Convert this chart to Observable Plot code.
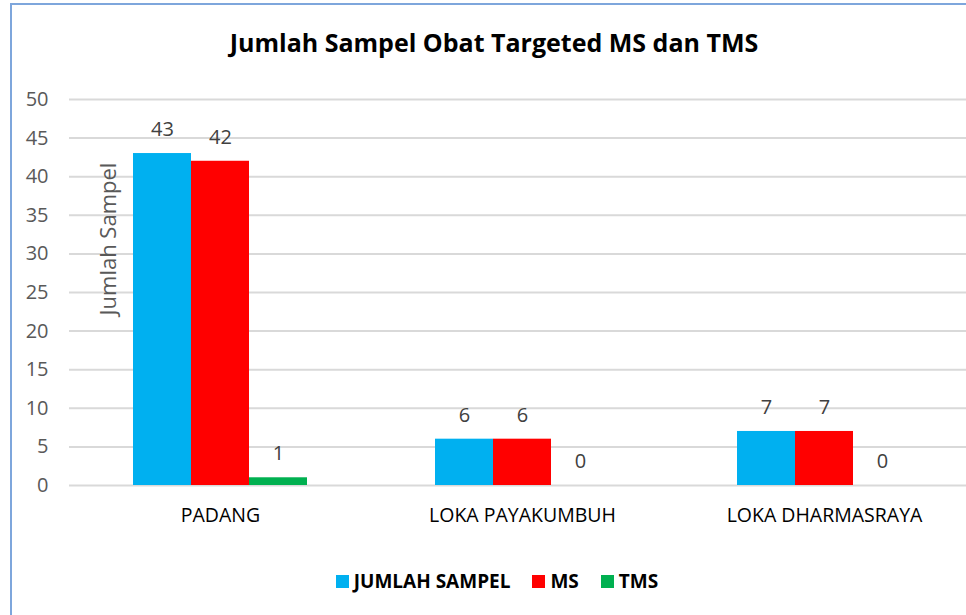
<!DOCTYPE html>
<html>
<head>
<meta charset="utf-8">
<script src="https://cdn.jsdelivr.net/npm/d3@7"></script>
<script src="https://cdn.jsdelivr.net/npm/@observablehq/plot@0.6"></script>
<style>
  html, body { margin: 0; padding: 0; background: #fff; }
  #wrap { position: relative; width: 966px; height: 615px; overflow: hidden; font-family: "Open Sans", sans-serif; }
  #frame { position: absolute; left: 10px; top: 3px; width: 1000px; height: 700px; border-left: 2px solid #7ea6dc; border-top: 2px solid #7ea6dc; box-sizing: border-box; }
  #title { position: absolute; left: 0; width: 988px; top: 25px; text-align: center; font-weight: 700; font-size: 25px; color: #000; }
  #ylab { position: absolute; left: 107px; top: 239px; transform: translate(-50%, -50%) rotate(-90deg); font-size: 22px; color: #595959; white-space: nowrap; }
  #chart { position: absolute; left: 0; top: 0; }
  #legend { position: absolute; top: 568px; left: 0; width: 994px; display: flex; justify-content: center; gap: 22px; font-weight: 700; font-size: 19px; color: #000; }
  .item { display: flex; align-items: center; }
  .sw { width: 13px; height: 13px; margin-right: 5px; display: inline-block; }
</style>
</head>
<body>
<div id="wrap">
  <div id="frame"></div>
  <div id="chart"></div>
  <div id="title"></div>
  <div id="ylab"></div>
  <div id="legend"></div>
</div>
<script>
const titleText = "Jumlah Sampel Obat Targeted MS dan TMS";
const yLabel = "Jumlah Sampel";
const categories = ["PADANG", "LOKA PAYAKUMBUH", "LOKA DHARMASRAYA"];
const seriesNames = ["JUMLAH SAMPEL", "MS", "TMS"];
const seriesColors = ["#00B0F0", "#FF0000", "#00B050"];
const jumlahSampel = [43, 6, 7];
const ms = [42, 6, 7];
const tms = [1, 0, 0];
const yTicks = [0, 5, 10, 15, 20, 25, 30, 35, 40, 45, 50];

const values = [jumlahSampel, ms, tms];
const data = [];
categories.forEach((c, i) => {
  seriesNames.forEach((s, j) => data.push({category: c, series: s, value: values[j][i]}));
});

document.getElementById("title").textContent = titleText;
document.getElementById("ylab").textContent = yLabel;
const legend = document.getElementById("legend");
seriesNames.forEach((s, j) => {
  const it = document.createElement("div");
  it.className = "item";
  it.innerHTML = `<span class="sw" style="background:${seriesColors[j]}"></span><span>${s}</span>`;
  legend.appendChild(it);
});

const chart = Plot.plot({
  width: 966,
  height: 540,
  marginTop: 99,
  marginBottom: 55,
  marginLeft: 68,
  marginRight: 0,
  style: {fontFamily: "Open Sans, sans-serif", background: "transparent", overflow: "visible"},
  fx: {domain: categories, range: [68, 975.5], padding: 0, label: null},
  x: {domain: seriesNames, paddingInner: 0, paddingOuter: 1.093, axis: null},
  y: {domain: [0, 50], label: null},
  color: {domain: seriesNames, range: seriesColors},
  marks: [
    Plot.ruleY(yTicks, {stroke: "#d9d9d9", strokeWidth: 2}),
    Plot.axisY(yTicks, {tickSize: 0, tickPadding: 21, fontSize: 20, fill: "#595959", label: null}),
    Plot.axisFx({anchor: "bottom", tickSize: 0, tickPadding: 23, fontSize: 19.5, fill: "#000", label: null}),
    Plot.barY(data, {fx: "category", x: "series", y: "value", fill: "series"}),
    Plot.text(data, {fx: "category", x: "series", y: "value", text: d => String(d.value), dy: -24, fill: "#404040", fontSize: 20}),
  ]
});
document.getElementById("chart").appendChild(chart);
</script>
</body>
</html>
